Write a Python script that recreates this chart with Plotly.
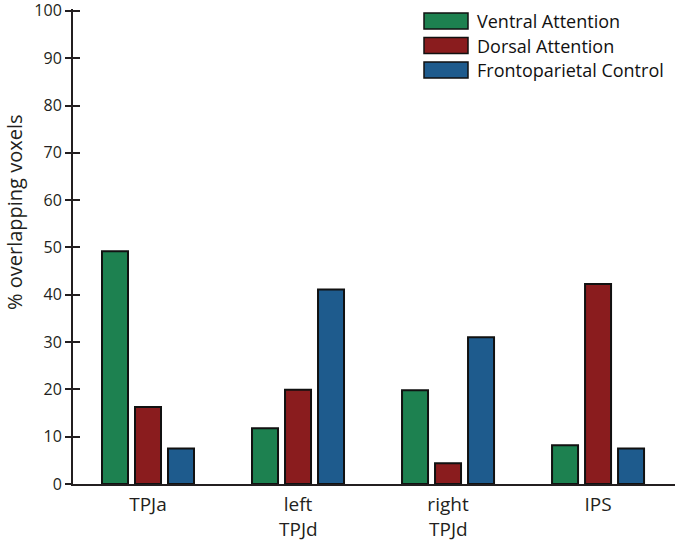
import plotly.graph_objects as go

categories = ["TPJa", "left TPJd", "right TPJd", "IPS"]
tick_line1 = ["TPJa", "left", "right", "IPS"]
tick_line2 = ["", "TPJd", "TPJd", ""]
series_names = ["Ventral Attention", "Dorsal Attention", "Frontoparietal Control"]
ventral = [49.2, 11.8, 19.8, 8.2]
dorsal = [16.3, 19.9, 4.4, 42.3]
frontoparietal = [7.5, 41.1, 31.0, 7.5]
y_ticks = [0, 10, 20, 30, 40, 50, 60, 70, 80, 90, 100]

colors = ["#1d8150", "#8a1c1e", "#1e5b8d"]
series_values = [ventral, dorsal, frontoparietal]
FONT = "Open Sans"
INK = "#231f20"

x_pos = list(range(len(categories)))

fig = go.Figure()
for name, vals, col in zip(series_names, series_values, colors):
    fig.add_trace(go.Bar(
        x=x_pos, y=vals, name=name,
        marker=dict(color=col, line=dict(color="#111111", width=2)),
        showlegend=False,
    ))

# invisible trace to carry the inner tick marks on an overlay axis
fig.add_trace(go.Scatter(x=[0], y=[0], yaxis="y2", mode="markers",
                         marker=dict(opacity=0), showlegend=False, hoverinfo="skip"))

W, H = 677, 542
L, R, T, B = 73, 2, 9, 58
YR = [0, 100.4]

fig.update_layout(
    width=W, height=H,
    margin=dict(l=L, r=R, t=T, b=B, autoexpand=False),
    paper_bgcolor="white", plot_bgcolor="white",
    barmode="group", bargap=0.34, bargroupgap=0.212,
    font=dict(family=FONT, color=INK),
    xaxis=dict(
        range=[-0.5, 3.513], tickvals=x_pos, ticktext=tick_line1, automargin=False,
        showline=True, linecolor=INK, linewidth=2, ticks="", ticklabelstandoff=2,
        showgrid=False, zeroline=False, tickfont=dict(size=19, color=INK),
        ticklabeloverflow="allow",
    ),
    yaxis=dict(
        range=YR, tickvals=y_ticks, showline=True, linecolor=INK, linewidth=2,
        ticks="outside", ticklen=6, tickwidth=2, tickcolor=INK, automargin=False,
        showgrid=False, zeroline=False, tickfont=dict(size=16, color=INK),
        ticklabeloverflow="allow",
    ),
    yaxis2=dict(
        range=YR, tickvals=y_ticks, overlaying="y", side="left", automargin=False,
        ticks="inside", ticklen=7, tickwidth=2, tickcolor=INK,
        showticklabels=False, showgrid=False, zeroline=False, showline=False,
    ),
)

ph = H - T - B
pw = W - L - R
def px_x(px):
    return (px - L) / pw
def px_y(py):
    return 1 - (py - T) / ph

# y-axis title
fig.add_annotation(x=px_x(14), y=px_y(213), xref="paper", yref="paper",
                   text="% overlapping voxels", textangle=-90, showarrow=False,
                   xanchor="center", yanchor="middle",
                   font=dict(size=20, color=INK, family=FONT))

# second line of category labels
for xi, t in zip(x_pos, tick_line2):
    if t:
        fig.add_annotation(x=xi, y=px_y(529), xref="x", yref="paper", text=t,
                           showarrow=False, yanchor="middle",
                           font=dict(size=19, color=INK, family=FONT))

# legend drawn manually (wide swatches)
rows = [21, 45.5, 70]
for name, col, yc in zip(series_names, colors, rows):
    fig.add_shape(type="rect", xref="paper", yref="paper",
                  x0=px_x(424), x1=px_x(468), y0=px_y(yc + 8), y1=px_y(yc - 8),
                  fillcolor=col, line=dict(color="#111111", width=1.5))
    fig.add_annotation(x=px_x(475), y=px_y(yc), xref="paper", yref="paper",
                       text=name, showarrow=False, xanchor="left", yanchor="middle",
                       font=dict(size=18, color="#111111", family=FONT))

fig.write_html("out.html", config={"displayModeBar": False},
               post_script="document.body.style.margin='0px';")
